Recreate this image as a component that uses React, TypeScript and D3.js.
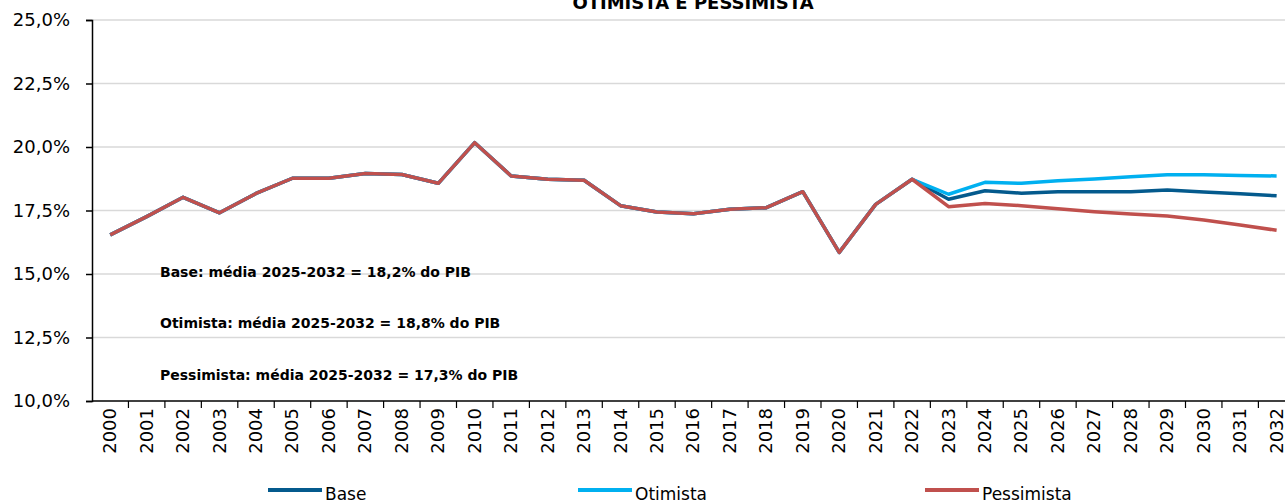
import * as d3 from 'd3';
import React, { useEffect, useRef } from 'react';

// anos e séries (% do PIB)
const years = d3.range(2000, 2033).map(String);

const historico = [
  16.54, 17.26, 18.02, 17.41, 18.17, 18.77, 18.77, 18.96, 18.92, 18.57,
  20.17, 18.86, 18.73, 18.69, 17.69, 17.44, 17.37, 17.55, 17.61, 18.24,
  15.85, 17.74, 18.73,
];
const base = [17.94, 18.28, 18.18, 18.24, 18.24, 18.24, 18.31, 18.23, 18.16, 18.08];
const otimista = [18.14, 18.61, 18.57, 18.67, 18.74, 18.83, 18.91, 18.91, 18.88, 18.86];
const pessimista = [17.65, 17.78, 17.69, 17.57, 17.45, 17.36, 17.28, 17.13, 16.93, 16.72];

const yTicks = [10, 12.5, 15, 17.5, 20, 22.5, 25];

const notes = [
  'Base: média 2025-2032 = 18,2% do PIB',
  'Otimista: média 2025-2032 = 18,8% do PIB',
  'Pessimista: média 2025-2032 = 17,3% do PIB',
];

const series = [
  { name: 'Base', values: historico.concat(base), color: '#045a8d' },
  { name: 'Otimista', values: historico.concat(otimista), color: '#00b0f0' },
  { name: 'Pessimista', values: historico.concat(pessimista), color: '#c0504d' },
];

const W = 1285, H = 503;
const font = '"DejaVu Sans", sans-serif';

const App = () => {
  const ref = useRef(null);

  useEffect(() => {
    const svg = d3.select(ref.current);
    svg.selectAll('*').remove();

    const left = 92, top = 20, bottom = 401;
    const x = d3.scaleBand().domain(years).range([left, left + 33 * 36.45]).padding(0);
    const y = d3.scaleLinear().domain([10, 25]).range([bottom, top]);
    const fmt = (d) => d3.format('.1f')(d).replace('.', ',') + '%';

    // gridlines
    svg.append('g')
      .selectAll('line')
      .data(yTicks.filter(d => d > 10))
      .join('line')
      .attr('x1', left).attr('x2', W)
      .attr('y1', d => y(d)).attr('y2', d => y(d))
      .attr('stroke', '#d9d9d9').attr('stroke-width', 1.5);

    // y axis
    svg.append('g')
      .attr('transform', `translate(${left},0)`)
      .call(d3.axisLeft(y).tickValues(yTicks).tickFormat(fmt).tickSize(6).tickPadding(16))
      .call(g => g.select('.domain').attr('stroke', '#000').attr('stroke-width', 1.5))
      .call(g => g.selectAll('.tick line').attr('stroke', '#000').attr('stroke-width', 1.5))
      .call(g => g.selectAll('.tick text').attr('font-family', font).attr('font-size', 18).attr('fill', '#000'));

    // x axis
    const xa = svg.append('g').attr('transform', `translate(0,${bottom})`);
    xa.append('line').attr('x1', left).attr('x2', W).attr('stroke', '#000').attr('stroke-width', 1.5);
    xa.selectAll('.tk')
      .data(years.slice(1))
      .join('line')
      .attr('x1', d => x(d)).attr('x2', d => x(d))
      .attr('y1', 0).attr('y2', 7)
      .attr('stroke', '#000').attr('stroke-width', 1.2);
    xa.selectAll('text')
      .data(years)
      .join('text')
      .attr('transform', d => `translate(${x(d) + x.bandwidth() / 2 + 6},7) rotate(-90)`)
      .attr('text-anchor', 'end')
      .attr('font-family', font).attr('font-size', 18)
      .text(d => d);

    // lines
    const line = d3.line()
      .x((d, i) => x(years[i]) + x.bandwidth() / 2)
      .y(d => y(d));
    svg.append('g')
      .selectAll('path')
      .data(series)
      .join('path')
      .attr('fill', 'none')
      .attr('stroke', d => d.color)
      .attr('stroke-width', 3.5)
      .attr('stroke-linejoin', 'round')
      .attr('d', d => line(d.values));

    // notes
    svg.append('g')
      .selectAll('text')
      .data(notes)
      .join('text')
      .attr('x', 160)
      .attr('y', (d, i) => [277, 328, 380][i])
      .attr('font-family', font).attr('font-size', 14).attr('font-weight', 'bold')
      .text(d => d);

    // title (second line only visible)
    svg.append('text')
      .attr('x', 693).attr('y', 9)
      .attr('text-anchor', 'middle')
      .attr('font-family', font).attr('font-size', 18).attr('font-weight', 'bold')
      .text('OTIMISTA E PESSIMISTA');

    // legend
    const lg = svg.append('g')
      .selectAll('g')
      .data(series)
      .join('g')
      .attr('transform', (d, i) => `translate(${[268, 578, 925][i]},490)`);
    lg.append('line').attr('x1', 0).attr('x2', 54)
      .attr('stroke', d => d.color).attr('stroke-width', 4);
    lg.append('text').attr('x', 57).attr('y', 10)
      .attr('font-family', font).attr('font-size', 17)
      .text(d => d.name);
  }, []);

  return (
    <div style={{ position: 'fixed', left: 0, top: 0 }}>
      <svg ref={ref} width={W} height={H} style={{ display: 'block', background: '#fff' }} />
    </div>
  );
};

export default App;
